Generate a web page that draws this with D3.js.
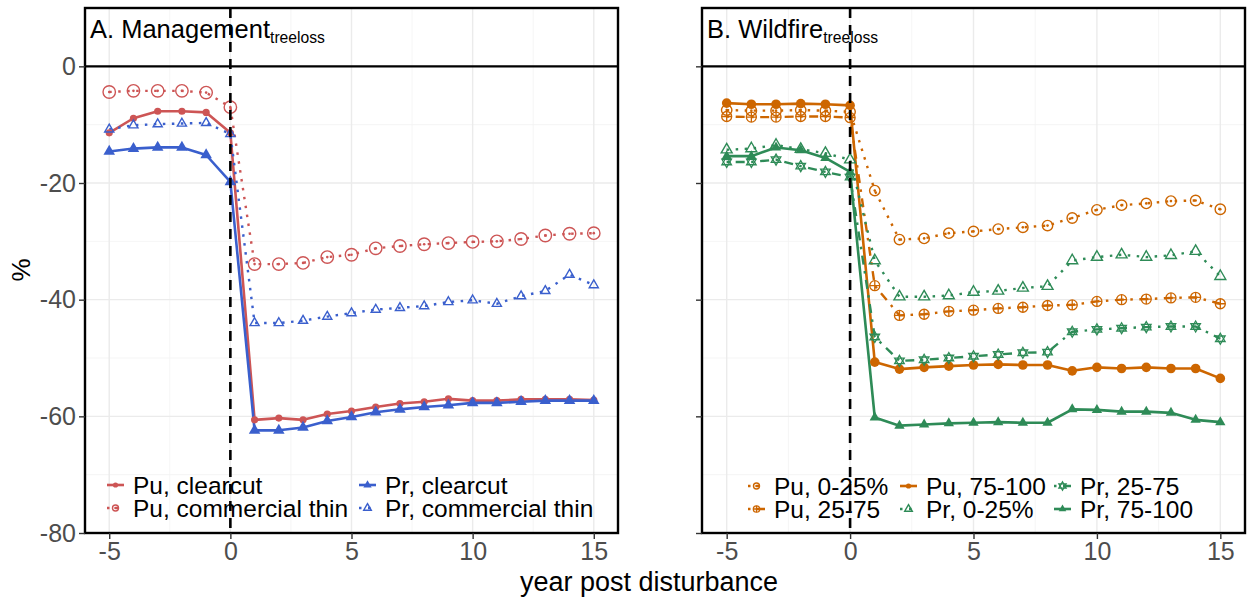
<!DOCTYPE html>
<html><head><meta charset="utf-8">
<script src="https://cdn.jsdelivr.net/npm/d3@7"></script>
<style>body{margin:0;background:#fff} svg{display:block;font-family:"Liberation Sans",Arial,sans-serif}</style>
</head><body><svg id="c" width="1248" height="600"></svg>
<script>
// ---- data ----
const years = [-5,-4,-3,-2,-1,0,1,2,3,4,5,6,7,8,9,10,11,12,13,14,15];
const xTicks = [-5,0,5,10,15];
const yTicks = [-80,-60,-40,-20,0];
const yTickLabels = ["-80","-60","-40","-20","0"];

// Panel A: Management
const puClearcut = [-11.4,-8.9,-7.7,-7.7,-7.9,-11.4,-60.6,-60.3,-60.6,-59.6,-59.1,-58.4,-57.8,-57.5,-57.0,-57.3,-57.3,-57.1,-57.1,-57.1,-57.2];
const puThin     = [-4.4,-4.2,-4.2,-4.2,-4.5,-7.0,-33.9,-33.9,-33.7,-32.7,-32.3,-31.2,-30.8,-30.5,-30.3,-30.1,-30.0,-29.6,-29.0,-28.7,-28.6];
const prClearcut = [-14.6,-14.1,-13.9,-13.9,-15.2,-19.8,-62.4,-62.4,-61.9,-60.8,-60.1,-59.3,-58.8,-58.4,-58.1,-57.7,-57.7,-57.5,-57.3,-57.3,-57.3];
const prThin     = [-10.8,-10.1,-9.9,-9.8,-9.7,-11.6,-44.0,-44.0,-43.6,-42.9,-42.3,-41.7,-41.4,-41.1,-40.4,-40.1,-40.7,-39.4,-38.5,-35.7,-37.5];

// Panel B: Wildfire
const puLow  = [-7.5,-7.6,-7.6,-7.5,-7.6,-7.8,-21.3,-29.7,-29.5,-28.6,-28.3,-27.9,-27.6,-27.3,-26.0,-24.6,-23.8,-23.5,-23.1,-23.0,-24.5];
const puMid  = [-8.6,-8.7,-8.7,-8.6,-8.6,-8.8,-37.6,-42.7,-42.5,-42.0,-41.8,-41.5,-41.3,-41.0,-40.9,-40.3,-40.0,-39.9,-39.7,-39.6,-40.7];
const puHigh = [-6.3,-6.5,-6.5,-6.4,-6.5,-6.7,-50.7,-51.9,-51.6,-51.4,-51.2,-51.1,-51.2,-51.2,-52.2,-51.6,-51.8,-51.6,-51.8,-51.8,-53.5];
const prLow  = [-14.3,-14.1,-13.5,-14.2,-14.9,-16.0,-33.3,-39.5,-39.5,-39.3,-38.7,-38.5,-38.0,-37.7,-33.3,-32.7,-32.3,-32.7,-32.4,-31.7,-36.0];
const prMid  = [-16.4,-16.4,-16.0,-17.1,-18.1,-19.0,-46.4,-50.5,-50.3,-50.0,-49.7,-49.4,-49.1,-49.0,-45.5,-45.1,-44.9,-44.7,-44.6,-44.6,-46.7];
const prHigh = [-15.4,-15.4,-13.9,-14.4,-15.7,-18.1,-60.2,-61.6,-61.4,-61.2,-61.1,-61.0,-61.1,-61.1,-58.8,-58.9,-59.2,-59.2,-59.4,-60.6,-61.0];

const legendA = ["Pu, clearcut","Pu, commercial thin","Pr, clearcut","Pr, commercial thin"];
const legendB = ["Pu, 0-25%","Pu, 25-75","Pu, 75-100","Pr, 0-25%","Pr, 25-75","Pr, 75-100"];

// ---- styles ----
const RED="#CD5555", BLUE="#3A5FCD", ORANGE="#CD6600", GREEN="#2E8B57";
const DOT="2.5,6.5", DOTDASH="2.5,6.5,9,6.5";

const svg = d3.select("#c");
const yTop=8, yBot=533;
const y = d3.scaleLinear().domain([-80,10]).range([yBot,yTop]);

function marker(g, type, cx, cy, s, color){
  const tri = (sz)=>d3.symbol().type(d3.symbolTriangle).size(sz)();
  if(type==="dot"){
    g.append("circle").attr("cx",cx).attr("cy",cy).attr("r",s).attr("fill",color);
  } else if(type==="ocircle"){
    g.append("circle").attr("cx",cx).attr("cy",cy).attr("r",s).attr("fill","none").attr("stroke",color).attr("stroke-width",1.4);
    g.append("circle").attr("cx",cx).attr("cy",cy).attr("r",1.3).attr("fill",color);
  } else if(type==="pcircle"){
    g.append("circle").attr("cx",cx).attr("cy",cy).attr("r",s).attr("fill","none").attr("stroke",color).attr("stroke-width",1.3);
    g.append("path").attr("d",`M${cx-s},${cy}H${cx+s}M${cx},${cy-s}V${cy+s}`).attr("stroke",color).attr("stroke-width",1.3);
  } else if(type==="ftri"){
    g.append("path").attr("d",tri(s*s)).attr("transform",`translate(${cx},${cy})`).attr("fill",color);
  } else if(type==="otri"){
    g.append("path").attr("d",tri(s*s)).attr("transform",`translate(${cx},${cy})`).attr("fill","none").attr("stroke",color).attr("stroke-width",1.4);
  } else if(type==="star"){
    g.append("path").attr("d",tri(s*s)).attr("transform",`translate(${cx},${cy})`).attr("fill","none").attr("stroke",color).attr("stroke-width",1.3);
    g.append("path").attr("d",tri(s*s)).attr("transform",`translate(${cx},${cy}) rotate(180)`).attr("fill","none").attr("stroke",color).attr("stroke-width",1.3);
  }
}

const panels = [
  { x0:85, x1:618, title:"A. Management", sub:"treeloss", labels:true,
    series:[
      {name:legendA[0], v:puClearcut, c:RED,  dash:null, w:2.6, m:"dot",     s:3.6, ls:2.6},
      {name:legendA[1], v:puThin,     c:RED,  dash:DOT,  w:2.4, m:"ocircle", s:6.2, ls:3},
      {name:legendA[2], v:prClearcut, c:BLUE, dash:null, w:2.6, m:"ftri",    s:7.6, ls:5.5},
      {name:legendA[3], v:prThin,     c:BLUE, dash:DOT,  w:2.4, m:"otri",    s:6,   ls:5}
    ],
    legendCols:[107,359], legendRows:[485,508], legendOrder:[[0,1],[2,3]] },
  { x0:702, x1:1245, title:"B. Wildfire", sub:"treeloss", labels:false,
    series:[
      {name:legendB[0], v:puLow,  c:ORANGE, dash:DOT,     w:2.4, m:"ocircle", s:5.2, ls:3},
      {name:legendB[1], v:puMid,  c:ORANGE, dash:DOTDASH, w:2.4, m:"pcircle", s:5,   ls:3.2},
      {name:legendB[2], v:puHigh, c:ORANGE, dash:null,    w:2.6, m:"dot",     s:4.8, ls:2.6},
      {name:legendB[3], v:prLow,  c:GREEN,  dash:DOT,     w:2.4, m:"otri",    s:7.2, ls:5},
      {name:legendB[4], v:prMid,  c:GREEN,  dash:DOTDASH, w:2.4, m:"star",    s:6.3, ls:4.8},
      {name:legendB[5], v:prHigh, c:GREEN,  dash:null,    w:2.6, m:"ftri",    s:6.8, ls:5}
    ],
    legendCols:[748,900,1054], legendRows:[486,509], legendOrder:[[0,1],[2,3],[4,5]] }
];

panels.forEach(p=>{
  const x = d3.scaleLinear().domain([-6,16]).range([p.x0,p.x1]);
  const g = svg.append("g");
  // grid
  const minorX=[-2.5,2.5,7.5,12.5], minorY=[-70,-50,-30,-10];
  g.selectAll(null).data(minorX).join("line").attr("x1",d=>x(d)).attr("x2",d=>x(d)).attr("y1",yTop).attr("y2",yBot).attr("stroke","#F2F2F2").attr("stroke-width",0.8);
  g.selectAll(null).data(minorY).join("line").attr("y1",d=>y(d)).attr("y2",d=>y(d)).attr("x1",p.x0).attr("x2",p.x1).attr("stroke","#F2F2F2").attr("stroke-width",0.8);
  g.selectAll(null).data(xTicks).join("line").attr("x1",d=>x(d)).attr("x2",d=>x(d)).attr("y1",yTop).attr("y2",yBot).attr("stroke","#EBEBEB").attr("stroke-width",1.4);
  g.selectAll(null).data(yTicks).join("line").attr("y1",d=>y(d)).attr("y2",d=>y(d)).attr("x1",p.x0).attr("x2",p.x1).attr("stroke","#EBEBEB").attr("stroke-width",1.4);
  // zero line
  g.append("line").attr("x1",p.x0).attr("x2",p.x1).attr("y1",y(0)).attr("y2",y(0)).attr("stroke","#000").attr("stroke-width",2.2);
  // series
  const line = d3.line().x((d,i)=>x(years[i])).y(d=>y(d));
  p.series.forEach(s=>{
    g.append("path").attr("d",line(s.v)).attr("fill","none").attr("stroke",s.c).attr("stroke-width",s.w)
      .attr("stroke-dasharray",s.dash).attr("stroke-linecap",s.dash?"butt":"round").attr("stroke-linejoin","round");
  });
  p.series.forEach(s=>{
    const mg = g.append("g");
    s.v.forEach((d,i)=>marker(mg, s.m, x(years[i]), y(d), s.s, s.c));
  });
  // vertical dashed line at 0
  g.append("line").attr("x1",x(0)).attr("x2",x(0)).attr("y1",yTop).attr("y2",yBot).attr("stroke","#000").attr("stroke-width",2.6).attr("stroke-dasharray","10,7");
  // legend
  p.legendOrder.forEach((col,ci)=>{
    col.forEach((si,ri)=>{
      const s=p.series[si], kx=p.legendCols[ci], ky=p.legendRows[ri];
      g.append("line").attr("x1",kx).attr("x2",kx+17).attr("y1",ky).attr("y2",ky).attr("stroke",s.c).attr("stroke-width",s.w).attr("stroke-dasharray",s.dash);
      marker(g, s.m, kx+8.5, ky, s.ls, s.c);
      g.append("text").attr("x",kx+26).attr("y",ky+8.5).attr("font-size",24.5).attr("fill","#000").text(s.name);
    });
  });
  // title
  const t = g.append("text").attr("x",p.x0+5).attr("y",38).attr("font-size",25.5).attr("fill","#000");
  t.append("tspan").text(p.title);
  t.append("tspan").attr("font-size",15.7).attr("dy",4.5).text(p.sub);
  // border
  g.append("rect").attr("x",p.x0).attr("y",yTop).attr("width",p.x1-p.x0).attr("height",yBot-yTop).attr("fill","none").attr("stroke","#000").attr("stroke-width",2.4);
  // axes
  const ya = d3.axisLeft(y).tickValues(yTicks).tickSize(6).tickPadding(3).tickFormat((d,i)=>p.labels?yTickLabels[i]:"");
  const yg = g.append("g").attr("transform",`translate(${p.x0},0)`).call(ya);
  const xa = d3.axisBottom(x).tickValues(xTicks).tickSize(6).tickPadding(3).tickFormat(d=>String(d));
  const xg = g.append("g").attr("transform",`translate(0,${yBot})`).call(xa);
  [yg,xg].forEach(a=>{
    a.select(".domain").remove();
    a.selectAll(".tick line").attr("stroke","#333").attr("stroke-width",1.4);
    a.selectAll(".tick text").attr("font-size",25).attr("fill","#4D4D4D").attr("font-family","Liberation Sans, Arial, sans-serif");
  });
});

svg.append("text").attr("x",649).attr("y",591).attr("text-anchor","middle").attr("font-size",27).attr("fill","#000").text("year post disturbance");
svg.append("text").attr("transform","translate(30,270) rotate(-90)").attr("text-anchor","middle").attr("font-size",26).attr("fill","#000").text("%");
</script></body></html>
